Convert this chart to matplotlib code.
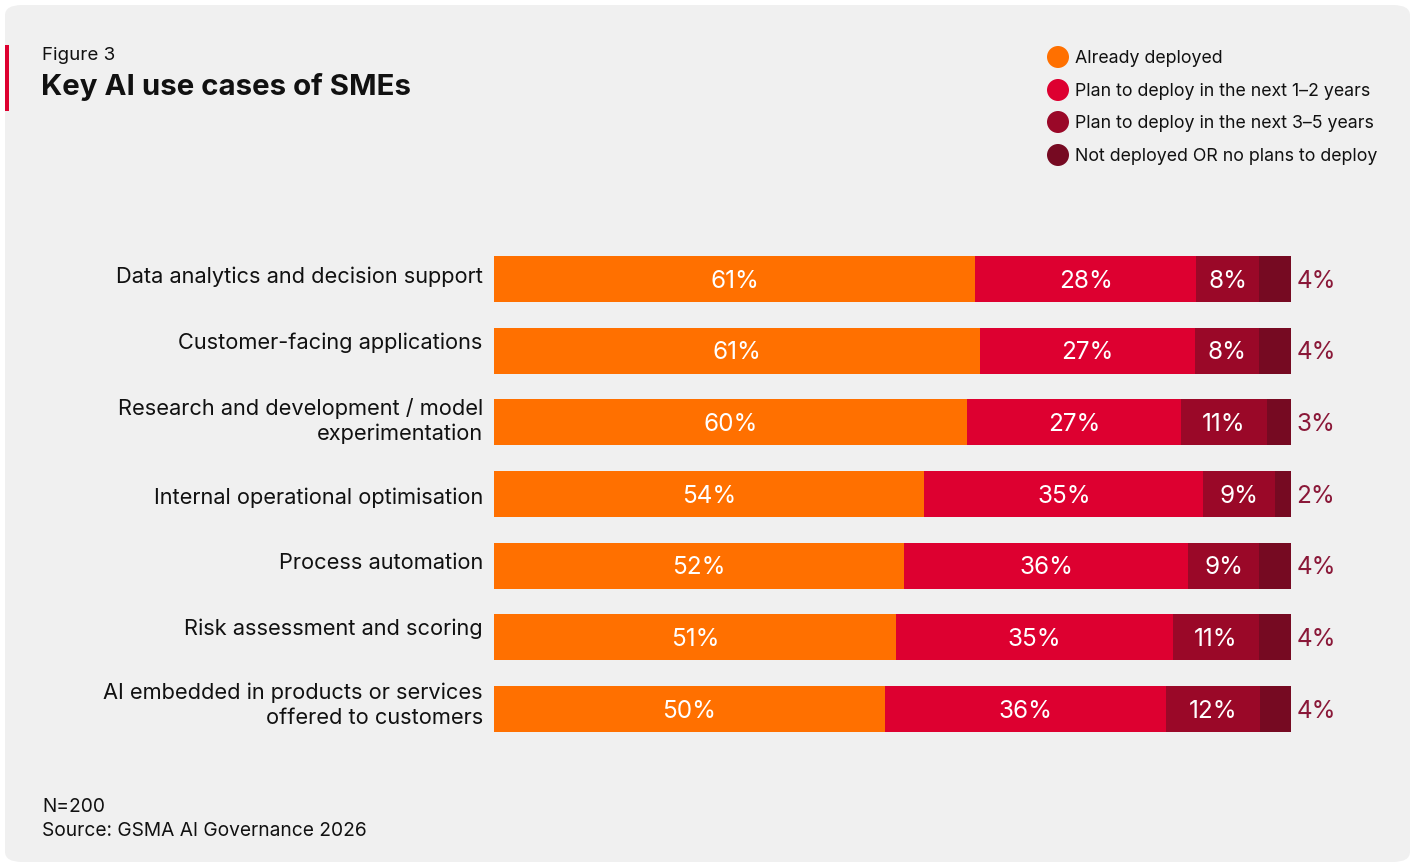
import numpy as np
import matplotlib
matplotlib.use("Agg")
import matplotlib.pyplot as plt
from matplotlib.patches import FancyBboxPatch, Rectangle, Ellipse

plt.rcParams['font.family'] = ['Inter', 'DejaVu Sans']

categories = [
    "Data analytics and decision support",
    "Customer-facing applications",
    "Research and development / model\nexperimentation",
    "Internal operational optimisation",
    "Process automation",
    "Risk assessment and scoring",
    "AI embedded in products or services\noffered to customers",
]
already = [61, 61, 60, 54, 52, 51, 50]
plan_1_2 = [28, 27, 27, 35, 36, 35, 36]
plan_3_5 = [8, 8, 11, 9, 9, 11, 12]
no_plans = [4, 4, 3, 2, 4, 4, 4]

series_names = [
    "Already deployed",
    "Plan to deploy in the next 1\u20132 years",
    "Plan to deploy in the next 3\u20135 years",
    "Not deployed OR no plans to deploy",
]
colors = ["#FF7000", "#DD0030", "#9A0828", "#760A22"]
outside_color = "#8A1838"

W, H = 1415, 866
fig = plt.figure(figsize=(W / 100, H / 100), dpi=100)
fig.patch.set_facecolor("white")

def fx(px):
    return px / W

def fy(py):
    return 1 - py / H

# rounded panel and red accent
panel = FancyBboxPatch((fx(5), fy(862)), fx(1405), 857 / H,
                       boxstyle="round,pad=0,rounding_size=0.012",
                       transform=fig.transFigure, facecolor="#F0F0F0",
                       edgecolor="none", zorder=-2)
fig.patches.append(panel)
fig.patches.append(Rectangle((fx(5), fy(111)), fx(4), 66 / H,
                             transform=fig.transFigure, facecolor="#DD0030",
                             edgecolor="none", zorder=-1))

fig.text(fx(42), fy(55), "Figure 3", fontsize=13.5, va="center", ha="left", color="#111111")
fig.text(fx(41), fy(87), "Key AI use cases of SMEs", fontsize=21.2, fontweight="bold",
         va="center", ha="left", color="#111111")
fig.text(fx(42), fy(807), "N=200", fontsize=13.8, va="center", ha="left", color="#111111")
fig.text(fx(42), fy(831), "Source: GSMA AI Governance 2026", fontsize=13.8, va="center",
         ha="left", color="#111111")

# legend
leg_y = [57, 90, 122, 155]
for name, c, ly in zip(series_names, colors, leg_y):
    fig.patches.append(Ellipse((fx(1058), fy(ly)), 22 / W, 22 / H,
                               transform=fig.transFigure, facecolor=c, edgecolor="none"))
    fig.text(fx(1075), fy(ly + 1.5), name, fontsize=12.8, va="center", ha="left",
             color="#111111")

# bar axes
x0, x1 = 494, 1291
top_row, bot_row = 279, 709
n = len(categories)
step = (bot_row - top_row) / (n - 1)
ax_top = top_row - step / 2
ax_bot = bot_row + step / 2
ax = fig.add_axes([fx(x0), fy(ax_bot), fx(x1 - x0), (ax_bot - ax_top) / H])
ax.set_zorder(5)
ax.set_facecolor("none")
ax.set_xlim(0, 1)
ax.set_ylim(n - 0.5, -0.5)
ax.axis("off")

data = np.array([already, plan_1_2, plan_3_5, no_plans], dtype=float)
totals = data.sum(axis=0)
shares = data / totals
y = np.arange(n)
left = np.zeros(n)
bh = 0.64
val_dy = 0.03
for k in range(4):
    ax.barh(y, shares[k], left=left, height=bh, color=colors[k], edgecolor="none")
    for i in range(n):
        val = int(data[k, i])
        if k < 3:
            ax.text(left[i] + shares[k, i] / 2, y[i] + val_dy, f"{val}%", ha="center",
                    va="center", color="white", fontsize=17.5)
        else:
            ax.text(1.0 + 0.007, y[i] + val_dy, f"{val}%", ha="left", va="center",
                    color=outside_color, fontsize=17.5)
    left += shares[k]

# category labels sit slightly off-centre on some rows
label_shift = [-0.03, -0.11, -0.02, 0.05, -0.04, -0.12, -0.05]
for i, cat in enumerate(categories):
    ax.text(-0.014, y[i] + label_shift[i], cat, ha="right", va="center", fontsize=15.7,
            color="#111111", linespacing=1.3)

fig.savefig("out.png", dpi=100, facecolor="white")
